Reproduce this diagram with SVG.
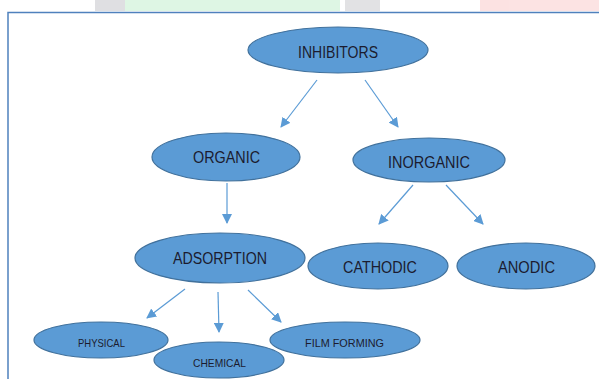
<svg xmlns="http://www.w3.org/2000/svg" width="599" height="379" viewBox="0 0 599 379">
<style>
.n ellipse{fill:#5B9BD5;stroke:#41719C;stroke-width:1.2}
.n text{font-family:"Liberation Sans",Arial,sans-serif;fill:#1b1b2f;text-anchor:middle;font-size:16px}
.n text.s{font-size:11px}
.c line{stroke:#5B9BD5;stroke-width:1.2;marker-end:url(#ah)}
</style>
<defs>
<marker id="ah" viewBox="0 0 10 10" refX="9" refY="5" markerWidth="10" markerHeight="10" markerUnits="userSpaceOnUse" orient="auto">
<path d="M0,0 L10,5 L0,10 z" fill="#5B9BD5"/>
</marker>
</defs>
<rect width="599" height="379" fill="#ffffff"/>
<g id="topstrip" opacity="0.85">
<rect x="95" y="0" width="30" height="11" fill="#dadadd"/>
<rect x="125" y="0" width="215" height="11" fill="#d9f5e0"/>
<rect x="345" y="0" width="35" height="11" fill="#dedee0"/>
<rect x="480" y="0" width="119" height="11" fill="#fcdede"/>
</g>
<rect x="8" y="12.5" width="600" height="380" fill="none" stroke="#4f81bd" stroke-width="1.5"/>
<g class="c" id="connectors">
<line x1="317" y1="80" x2="281" y2="127"/>
<line x1="365" y1="80" x2="398" y2="127"/>
<line x1="227" y1="183" x2="227" y2="223"/>
<line x1="413" y1="185" x2="379" y2="224"/>
<line x1="446" y1="185" x2="483" y2="224"/>
<line x1="185" y1="289" x2="147" y2="318"/>
<line x1="218" y1="292" x2="219" y2="332"/>
<line x1="248" y1="290" x2="281" y2="322"/>
</g>
<g class="n" id="inhibitors"><ellipse cx="338" cy="50" rx="90" ry="23"/><text x="338" y="58" textLength="80" lengthAdjust="spacingAndGlyphs">INHIBITORS</text></g>
<g class="n" id="organic"><ellipse cx="226" cy="157" rx="74" ry="24"/><text x="226.5" y="163" textLength="67" lengthAdjust="spacingAndGlyphs">ORGANIC</text></g>
<g class="n" id="inorganic"><ellipse cx="429" cy="160" rx="76" ry="22"/><text x="429" y="168" textLength="82" lengthAdjust="spacingAndGlyphs">INORGANIC</text></g>
<g class="n" id="adsorption"><ellipse cx="220" cy="258" rx="85" ry="25"/><text x="220" y="263.5" textLength="94" lengthAdjust="spacingAndGlyphs">ADSORPTION</text></g>
<g class="n" id="cathodic"><ellipse cx="378" cy="266" rx="70" ry="23"/><text x="380" y="272.5" textLength="74" lengthAdjust="spacingAndGlyphs">CATHODIC</text></g>
<g class="n" id="anodic"><ellipse cx="526" cy="266" rx="69" ry="23"/><text x="526.5" y="272.5" textLength="57" lengthAdjust="spacingAndGlyphs">ANODIC</text></g>
<g class="n" id="physical"><ellipse cx="101" cy="340" rx="67" ry="18"/><text class="s" x="101.5" y="347" textLength="47" lengthAdjust="spacingAndGlyphs">PHYSICAL</text></g>
<g class="n" id="chemical"><ellipse cx="219" cy="360" rx="65" ry="18"/><text class="s" x="219.5" y="367" textLength="53" lengthAdjust="spacingAndGlyphs">CHEMICAL</text></g>
<g class="n" id="filmforming"><ellipse cx="345" cy="340" rx="75" ry="18"/><text class="s" x="344.5" y="347" textLength="79" lengthAdjust="spacingAndGlyphs">FILM FORMING</text></g>
</svg>
